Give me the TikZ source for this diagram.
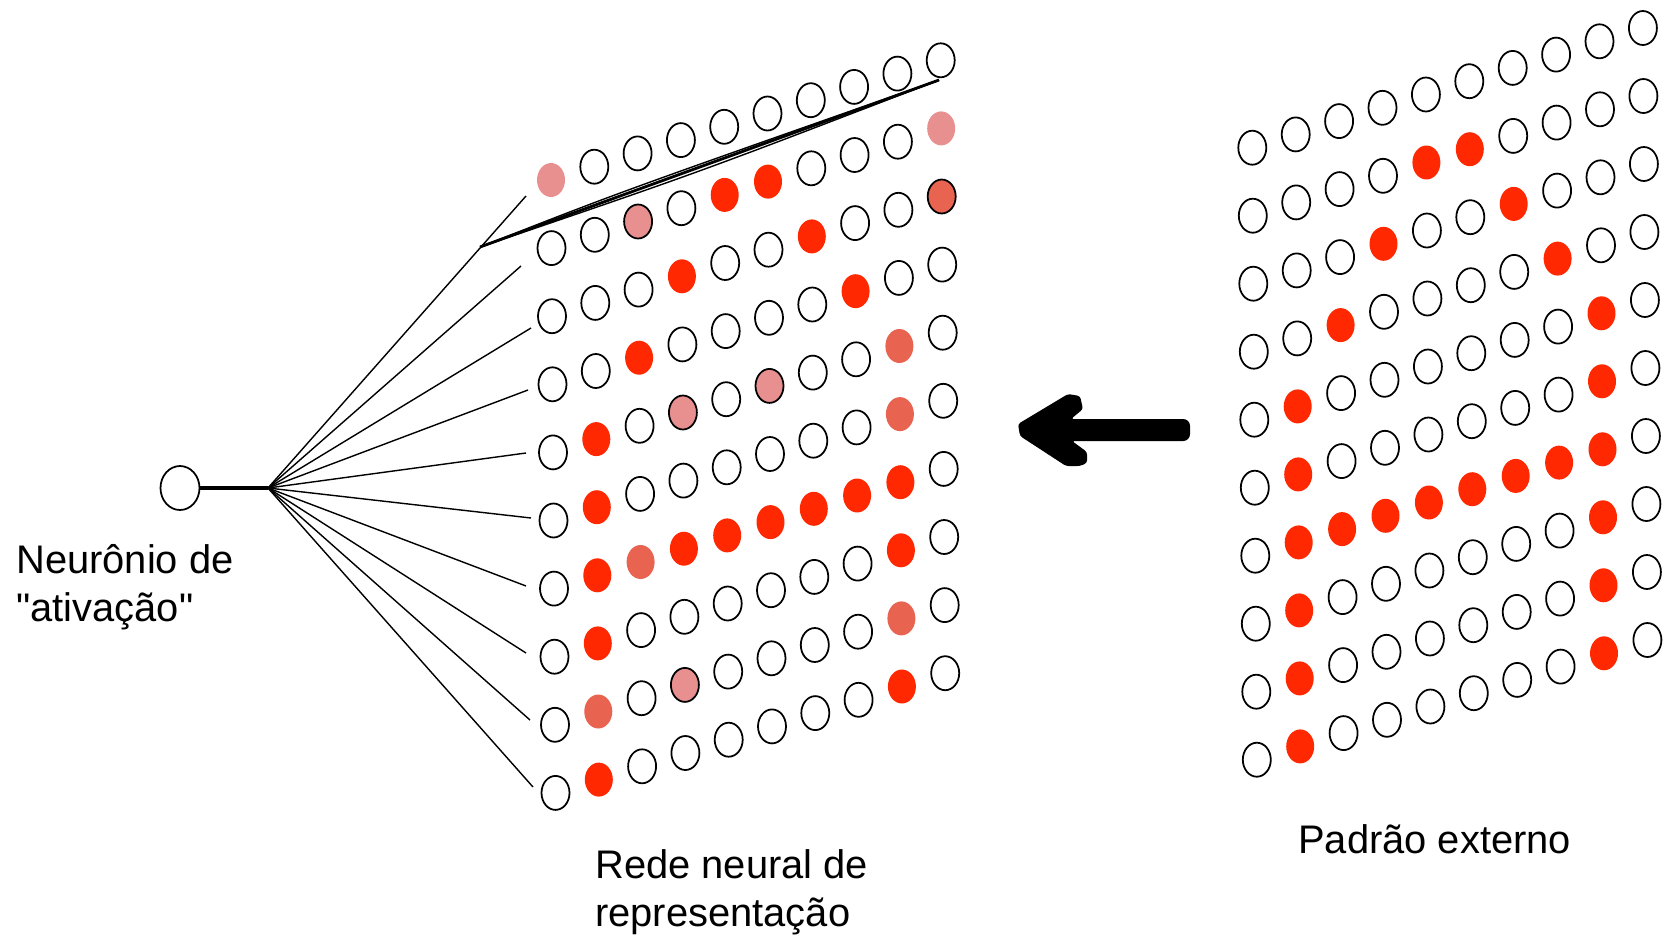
\documentclass[tikz,border=0pt]{standalone}
\usepackage{fontspec}
\setmainfont{Liberation Sans}[Ligatures=TeXOff]
\usetikzlibrary{shapes.geometric}
\definecolor{actred}{RGB}{255,40,0}
\definecolor{actpink}{RGB}{232,144,144}
\definecolor{actsalmon}{RGB}{232,100,80}

\begin{document}
\begin{tikzpicture}[x=0.02cm,y=-0.02cm,
  unit/.style={ellipse,minimum width=0.56cm,minimum height=0.68cm,inner sep=0pt,line width=1pt},
  doto/.style={unit,draw=black,fill=white},
  dotr/.style={unit,fill=actred},
  dotp/.style={unit,fill=actpink},
  dotP/.style={unit,draw=black,fill=actpink},
  dots/.style={unit,fill=actsalmon},
  dotS/.style={unit,draw=black,fill=actsalmon},
  wire/.style={line width=0.8pt},
  txt/.style={inner sep=0pt,align=left,anchor=base west,
    font=\fontsize{22.7}{27}\selectfont}]

\useasboundingbox (0,0) rectangle (1667,937);

% representation network (noisy pattern)
\foreach \r [count=\j] in {
  {p,o,o,o,o,o,o,o,o,o},
  {o,o,P,o,r,r,o,o,o,p},
  {o,o,o,r,o,o,r,o,o,S},
  {o,o,r,o,o,o,o,r,o,o},
  {o,r,o,P,o,P,o,o,s,o},
  {o,r,o,o,o,o,o,o,s,o},
  {o,r,s,r,r,r,r,r,r,o},
  {o,r,o,o,o,o,o,o,r,o},
  {o,s,o,P,o,o,o,o,s,o},
  {o,r,o,o,o,o,o,o,r,o}} {
  \foreach \c [count=\i] in \r {
    \node[dot\c] (L-\i-\j) at ({551+43.3*(\i-1)+0.5*(\j-1)},{180-13.3*(\i-1)+68.1*(\j-1)}) {};
  }
}

% external pattern
\foreach \r [count=\j] in {
  {o,o,o,o,o,o,o,o,o,o},
  {o,o,o,o,r,r,o,o,o,o},
  {o,o,o,r,o,o,r,o,o,o},
  {o,o,r,o,o,o,o,r,o,o},
  {o,r,o,o,o,o,o,o,r,o},
  {o,r,o,o,o,o,o,o,r,o},
  {o,r,r,r,r,r,r,r,r,o},
  {o,r,o,o,o,o,o,o,r,o},
  {o,r,o,o,o,o,o,o,r,o},
  {o,r,o,o,o,o,o,o,r,o}} {
  \foreach \c [count=\i] in \r {
    \node[dot\c] (R-\i-\j) at ({1252.3+43.4*(\i-1)+0.5*(\j-1)},{147.7-13.3*(\i-1)+68.0*(\j-1)}) {};
  }
}

% activation neuron and its fan of connections
\node[ellipse,draw,line width=1pt,minimum width=0.78cm,minimum height=0.88cm,inner sep=0pt] (act) at (180,488) {};
\coordinate (J) at (268,488);
\draw[line width=2pt] (act.east) -- (J);

\coordinate (e1) at (526,196);
\coordinate (e2) at (521,266);
\coordinate (e3) at (531,328);
\coordinate (e4) at (528,390);
\coordinate (e5) at (526,453);
\coordinate (e6) at (531,518);
\coordinate (e7) at (526,586);
\coordinate (e8) at (526,653);
\coordinate (e9) at (530,720);
\coordinate (e10) at (533,787);
\foreach \j in {1,...,10} \draw[wire] (J) -- (e\j);

% bundle running along the first row
\coordinate (T0) at (480,247);
\coordinate (T1) at (939,80);
\draw[line width=1.6pt] (T0) -- (T1);
\draw[wire] (T0) .. controls (620,192) .. (T1);
\draw[wire] (T0) .. controls (700,172) .. (T1);

% input arrow
\fill[rounded corners=1.5pt] (1018,424) -- (1068,394) -- (1080,396) -- (1083,409) -- (1071,419)
  -- (1186,419) -- (1190,423) -- (1190,437) -- (1186,441) -- (1072,441) -- (1087,452)
  -- (1087,463) -- (1080,466) -- (1066,466) -- (1020,436) -- cycle;

% captions (anchored on the baseline of their last line)
\node[txt] (tact) at (16,621) {Neurônio de\\"ativação"};
\node[txt] (tnet) at (595,926) {Rede neural de\\representação};
\node[txt] (text) at (1298,853) {Padrão externo};
\end{tikzpicture}
\end{document}
